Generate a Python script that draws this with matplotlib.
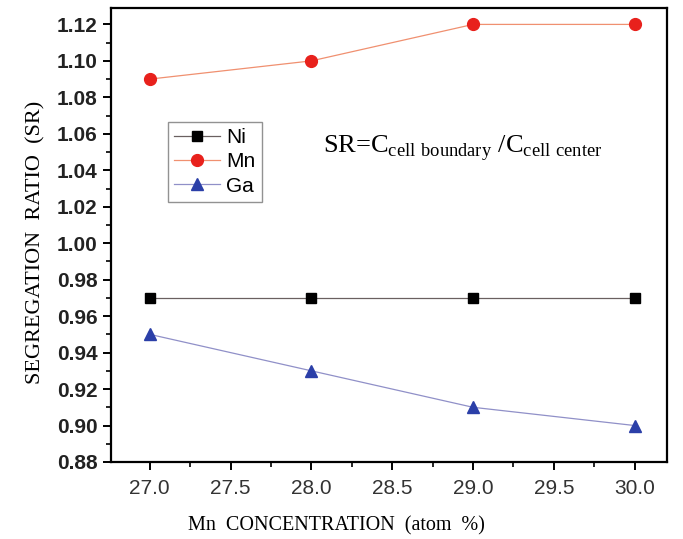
import matplotlib
matplotlib.use("Agg")
import matplotlib.pyplot as plt
from matplotlib.ticker import MultipleLocator, FormatStrFormatter

x = [27.0, 28.0, 29.0, 30.0]
ni = [0.97, 0.97, 0.97, 0.97]
mn = [1.09, 1.10, 1.12, 1.12]
ga = [0.95, 0.93, 0.91, 0.90]

fig = plt.figure(figsize=(6.83, 5.39), dpi=100)
ax = fig.add_axes([111/683, 1-462/539, (667-111)/683, (462-8)/539])

ax.plot(x, ni, color='#6a6060', lw=0.9, marker='s', ms=7.5, mfc='black', mec='black', label='Ni')
ax.plot(x, mn, color='#f09070', lw=0.9, marker='o', ms=8.5, mfc='#e8211c', mec='#e8211c', label='Mn')
ax.plot(x, ga, color='#9090c8', lw=0.9, marker='^', ms=8.5, mfc='#2b3fa8', mec='#2b3fa8', label='Ga')

ax.set_xlim(26.76, 30.2)
ax.set_ylim(0.88, 1.129)
ax.xaxis.set_major_locator(MultipleLocator(0.5))
ax.xaxis.set_minor_locator(MultipleLocator(0.25))
ax.yaxis.set_major_locator(MultipleLocator(0.02))
ax.yaxis.set_minor_locator(MultipleLocator(0.01))
ax.xaxis.set_major_formatter(FormatStrFormatter('%.1f'))
ax.yaxis.set_major_formatter(FormatStrFormatter('%.2f'))

for s in ax.spines.values():
    s.set_linewidth(1.6)
ax.tick_params(which='major', direction='out', length=6, width=1.4, labelsize=15)
ax.tick_params(which='minor', direction='out', length=3.5, width=1.2)
ax.tick_params(axis='x', which='major', pad=6)
for lab in ax.get_yticklabels():
    lab.set_fontweight('bold')
    lab.set_family('Liberation Sans')
    lab.set_color('#222222')
for lab in ax.get_xticklabels():
    lab.set_family('Liberation Sans')
    lab.set_color('#333333')

ax.set_xlabel('Mn  CONCENTRATION  (atom  %)', family='Liberation Serif', fontsize=14.5)
ax.set_ylabel('SEGREGATION  RATIO  (SR)', family='Liberation Serif', fontsize=16)
ax.xaxis.set_label_coords((336-111)/556, -(516-462)/454)
ax.yaxis.set_label_coords(-(111-45)/556, (462-242)/454)

leg = ax.legend(loc='upper left', bbox_to_anchor=((168-111)/556, (462-122)/454),
                frameon=True, fancybox=False, edgecolor='#777777',
                prop={'family': 'Liberation Sans', 'size': 15},
                handlelength=2.2, handletextpad=0.3, borderpad=0.3, labelspacing=0.25,
                borderaxespad=0)
leg.get_frame().set_linewidth(1.0)

ax.text((323-111)/556, (462-148)/454,
        r'SR=C$_{\mathregular{cell\ boundary}}$ /C$_{\mathregular{cell\ center}}$',
        transform=ax.transAxes, family='Liberation Serif', fontsize=19, va='center', ha='left')

fig.savefig('out.png', dpi=100)
